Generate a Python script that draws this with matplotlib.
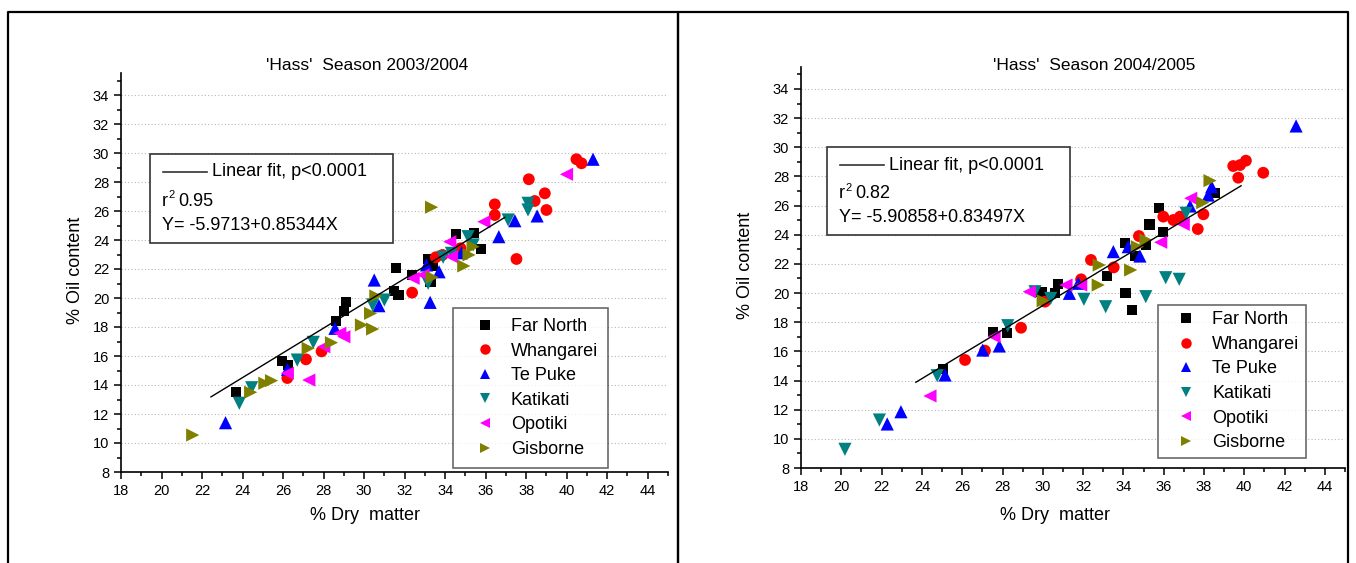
import numpy as np
import matplotlib
matplotlib.use('Agg')
import matplotlib.pyplot as plt
from matplotlib.lines import Line2D
from matplotlib.patches import Rectangle
from matplotlib.ticker import MultipleLocator

plt.rcParams['font.family'] = ['Liberation Sans', 'DejaVu Sans']

regions = ['Far North', 'Whangarei', 'Te Puke', 'Katikati', 'Opotiki', 'Gisborne']
markers = ['s', 'o', '^', 'v', '<', '>']
msizes = [55, 72, 90, 90, 90, 90]
colors = ['#000000', '#ff0000', '#0000ff', '#008080', '#ff00ff', '#808000']

# ---- season 2003/2004 : (dry matter, oil content) per region
dm03_farnorth = [23.66, 25.93, 26.25, 28.61, 29.00, 29.12, 31.57, 31.48, 31.70, 32.37,
                 33.16, 33.41, 33.28, 34.53, 35.43, 35.76]
oil03_farnorth = [13.50, 15.66, 15.38, 18.43, 19.12, 19.74, 22.09, 20.48, 20.19, 21.59,
                  22.67, 22.21, 21.08, 24.39, 24.46, 23.36]
dm03_whangarei = [26.21, 27.13, 27.90, 32.37, 33.54, 33.87, 34.76, 36.45, 36.45, 37.52,
                  38.13, 38.42, 38.92, 39.00, 40.48, 40.73]
oil03_whangarei = [14.48, 15.77, 16.32, 20.37, 22.81, 22.97, 23.43, 26.46, 25.72, 22.69,
                   28.19, 26.69, 27.22, 26.07, 29.57, 29.29]
dm03_tepuke = [23.16, 26.22, 28.56, 30.50, 30.73, 33.08, 33.70, 33.26, 34.81, 36.65,
               37.44, 38.54, 41.30]
oil03_tepuke = [11.40, 15.08, 17.91, 21.24, 19.47, 22.28, 21.81, 19.70, 23.12, 24.23,
                25.33, 25.66, 29.57]
dm03_katikati = [23.84, 24.45, 26.70, 27.49, 30.42, 31.00, 33.16, 33.90, 34.31, 35.13,
                 35.38, 37.11, 38.09, 38.09]
oil03_katikati = [12.74, 13.81, 15.72, 16.94, 19.52, 19.86, 21.01, 22.81, 23.08, 24.23,
                  23.66, 25.38, 26.53, 26.07]
dm03_opotiki = [26.21, 27.27, 28.01, 28.80, 29.00, 32.42, 32.91, 34.23, 34.31, 35.91, 39.99]
oil03_opotiki = [14.81, 14.34, 16.64, 17.57, 17.33, 21.36, 21.59, 23.88, 22.85, 25.26, 28.53]
dm03_gisborne = [21.54, 24.40, 25.10, 25.43, 27.24, 28.39, 29.87, 30.42, 30.32, 30.58,
                 33.36, 34.92, 35.18, 35.38, 33.33]
oil03_gisborne = [10.55, 13.50, 14.12, 14.30, 16.53, 16.92, 18.14, 17.86, 18.94, 20.14,
                  21.43, 22.21, 22.97, 23.54, 26.26]

# ---- season 2004/2005
dm04_farnorth = [25.06, 27.54, 28.24, 29.94, 30.74, 30.61, 33.20, 34.08, 34.10, 34.41,
                 34.58, 35.12, 35.29, 35.78, 35.98, 38.55]
oil04_farnorth = [14.77, 17.35, 17.24, 20.09, 20.62, 20.02, 21.17, 23.41, 20.02, 18.84,
                  22.54, 23.30, 24.71, 25.81, 24.21, 26.88]
dm04_whangarei = [26.14, 27.13, 28.92, 30.11, 31.90, 32.39, 33.52, 34.77, 35.98, 36.48,
                  36.81, 37.69, 37.97, 39.45, 39.70, 39.79, 40.08, 40.94]
oil04_whangarei = [15.41, 16.05, 17.62, 19.41, 20.94, 22.27, 21.76, 23.91, 25.24, 25.01,
                   25.24, 24.39, 25.40, 28.71, 27.91, 28.78, 29.08, 28.25]
dm04_tepuke = [22.28, 22.96, 25.15, 27.02, 27.84, 31.32, 31.76, 33.50, 34.24, 34.82,
               37.31, 38.21, 38.38, 42.57]
oil04_tepuke = [11.02, 11.86, 14.38, 16.09, 16.37, 19.98, 20.67, 22.84, 23.18, 22.54,
                25.97, 26.72, 27.29, 31.46]
dm04_katikati = [20.18, 21.89, 24.76, 28.26, 29.61, 30.39, 32.04, 33.12, 35.11, 36.10,
                 36.77, 37.11]
oil04_katikati = [9.28, 11.29, 14.33, 17.76, 20.09, 19.63, 19.57, 19.06, 19.75, 21.05,
                  20.94, 25.47]
dm04_opotiki = [24.40, 27.58, 29.33, 31.15, 31.88, 35.85, 36.97, 37.34]
oil04_opotiki = [12.94, 17.01, 20.09, 20.55, 20.55, 23.48, 24.71, 26.50]
dm04_gisborne = [30.02, 32.80, 32.75, 34.36, 34.69, 35.12, 37.94, 38.30]
oil04_gisborne = [19.47, 21.92, 20.55, 21.58, 23.18, 23.64, 26.20, 27.71]

# linear fits as reported
fit03 = (-5.9713, 0.85344, 0.95)
fit04 = (-5.90858, 0.83497, 0.82)
fit03_range = [22.44, 36.94]
fit04_range = [23.70, 39.84]

W, H = 1356, 563
fig = plt.figure(figsize=(W / 100, H / 100), dpi=100)


def fx(px):
    return px / W


def fy(py):
    return 1 - py / H


# panel frames (open at the bottom)
for x0, x1 in [(8, 678), (678, 1348)]:
    fig.add_artist(Line2D([fx(x0), fx(x0), fx(x1), fx(x1)],
                          [0, fy(12), fy(12), 0], color='black', lw=1.6,
                          transform=fig.transFigure))


def panel(rect, dms, oils, fit, frange, title, title_xy, ylab_xy, xlab_xy,
          box, leg_xy, leg_pad):
    ax = fig.add_axes(rect)
    for dm, oil, m, sz, c, name in zip(dms, oils, markers, msizes, colors, regions):
        ax.scatter(dm, oil, marker=m, s=sz, color=c, edgecolors='none',
                   label=name, zorder=3)
    xs = np.array(frange)
    ax.plot(xs, fit[0] + fit[1] * xs, color='black', lw=1.0, zorder=4)
    ax.set_xlim(18, 45)
    ax.set_ylim(8, 35.5)
    ax.xaxis.set_minor_locator(MultipleLocator(1))
    ax.yaxis.set_minor_locator(MultipleLocator(1))
    ax.set_xticks(np.arange(18, 45, 2))
    ax.set_yticks(np.arange(8, 35, 2))
    ax.tick_params(which='major', direction='out', length=5, width=1.1,
                   labelsize=10.5)
    ax.tick_params(which='minor', direction='out', length=3, width=1.1)
    for s in ['top', 'right']:
        ax.spines[s].set_visible(False)
    for s in ['left', 'bottom']:
        ax.spines[s].set_linewidth(1.2)
    ax.yaxis.grid(True, which='major', linestyle=(0, (1, 2)), color='#b8b8b8',
                  lw=0.8)
    ax.set_axisbelow(True)

    fig.text(fx(title_xy[0]), fy(title_xy[1]), title, ha='center', va='center',
             fontsize=12.5)
    fig.text(fx(ylab_xy[0]), fy(ylab_xy[1]), '% Oil content', rotation=90,
             ha='center', va='center', fontsize=13)
    fig.text(fx(xlab_xy[0]), fy(xlab_xy[1]), '% Dry  matter', ha='center',
             va='center', fontsize=13)

    # fit annotation box
    bx0, by0, bx1, by1 = box
    fig.add_artist(Rectangle((fx(bx0), fy(by1)), fx(bx1 - bx0), (by1 - by0) / H,
                             transform=fig.transFigure, facecolor='white',
                             edgecolor='#333333', lw=1.2, zorder=5))
    fig.add_artist(Line2D([fx(bx0 + 13), fx(bx0 + 57)],
                          [fy(by0 + 18), fy(by0 + 18)], color='#333333', lw=1.2,
                          transform=fig.transFigure, zorder=6))
    fig.text(fx(bx0 + 62), fy(by0 + 18), 'Linear fit, p<0.0001', ha='left',
             va='center', fontsize=13, zorder=6)
    fig.text(fx(bx0 + 12), fy(by0 + 47), 'r', ha='left', va='center',
             fontsize=13, zorder=6)
    fig.text(fx(bx0 + 18), fy(by0 + 41), '2', ha='left', va='center',
             fontsize=8, zorder=6)
    fig.text(fx(bx0 + 28), fy(by0 + 47), '%.2f' % fit[2], ha='left',
             va='center', fontsize=13, zorder=6)
    fig.text(fx(bx0 + 12), fy(by0 + 71), 'Y= %s+%sX' % (fit[0], fit[1]),
             ha='left', va='center', fontsize=13, zorder=6)

    handles = [Line2D([], [], marker=m, color=c, ls='none', markersize=7.5,
                      markeredgewidth=0) for m, c in zip(markers, colors)]
    leg = ax.legend(handles, regions, loc='upper left',
                    bbox_to_anchor=(fx(leg_xy[0]), fy(leg_xy[1])),
                    bbox_transform=fig.transFigure, borderaxespad=0,
                    fontsize=13, frameon=True, fancybox=False,
                    edgecolor='#444444', handlelength=2.4, handletextpad=0.25,
                    labelspacing=0.42, borderpad=leg_pad)
    leg.get_frame().set_linewidth(1.2)
    return ax


panel([fx(121), fy(472), (668 - 121) / W, 27.5 * 14.5 / H],
      [dm03_farnorth, dm03_whangarei, dm03_tepuke, dm03_katikati, dm03_opotiki,
       dm03_gisborne],
      [oil03_farnorth, oil03_whangarei, oil03_tepuke, oil03_katikati,
       oil03_opotiki, oil03_gisborne],
      fit03, fit03_range, "'Hass'  Season 2003/2004", (367, 66), (76, 270),
      (365, 515), (150, 154, 393, 243), (453, 308), 0.55)

panel([fx(801), fy(468), 27 * 20.15 / W, 27.5 * 14.58 / H],
      [dm04_farnorth, dm04_whangarei, dm04_tepuke, dm04_katikati, dm04_opotiki,
       dm04_gisborne],
      [oil04_farnorth, oil04_whangarei, oil04_tepuke, oil04_katikati,
       oil04_opotiki, oil04_gisborne],
      fit04, fit04_range, "'Hass'  Season 2004/2005", (1094, 66), (746, 265),
      (1055, 515), (827, 147, 1070, 235), (1158, 305), 0.35)

fig.savefig('out.png', dpi=100, facecolor='white')
